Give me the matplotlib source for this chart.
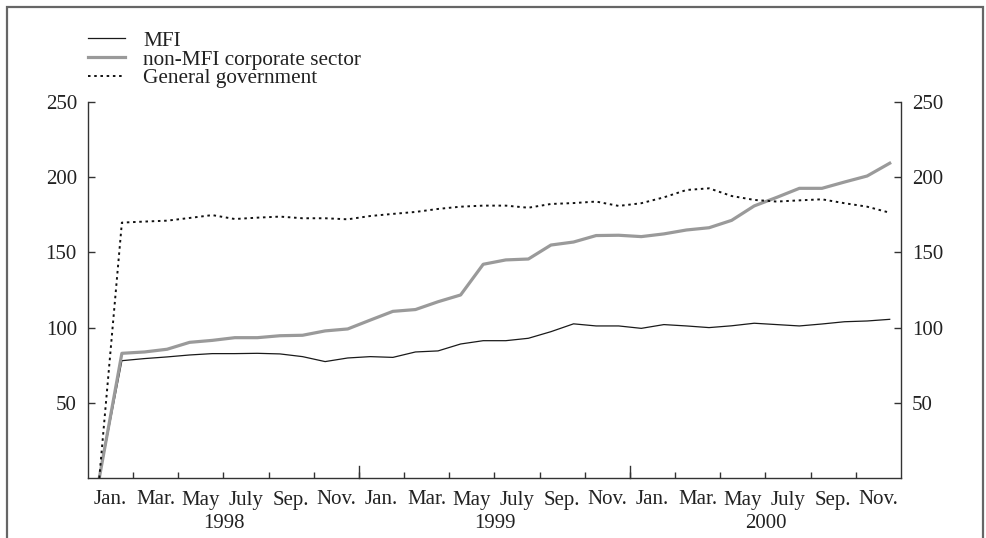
import matplotlib
matplotlib.use("Agg")
import matplotlib.pyplot as plt
from matplotlib.patches import Rectangle
import numpy as np

plt.rcParams['font.family'] = ['Liberation Serif', 'DejaVu Serif']

# ---- data (monthly, Jan 1998 - Dec 2000) ----
months = list(range(36))
mfi = [0, 78.0, 79.4, 80.5, 81.8, 82.7, 82.7, 82.9, 82.5, 80.7, 77.4, 79.8,
       80.7, 80.2, 83.8, 84.5, 89.1, 91.3, 91.3, 92.9, 97.3, 102.5, 101.1, 101.1,
       99.5, 102.0, 101.1, 100.0, 101.2, 102.9, 102.0, 101.1, 102.4, 103.9, 104.4, 105.5]
corp = [0, 82.9, 83.8, 85.6, 90.2, 91.5, 93.3, 93.3, 94.6, 94.9, 97.8, 99.1,
        105.0, 110.8, 112.0, 117.2, 121.7, 142.1, 145.0, 145.6, 154.9, 156.9, 161.2, 161.4,
        160.5, 162.3, 164.9, 166.4, 171.3, 180.9, 186.6, 192.6, 192.6, 196.8, 200.8, 209.3]
gov = [0, 169.8, 170.5, 171.1, 172.9, 174.8, 172.2, 173.1, 173.8, 172.7, 172.7, 172.0,
       174.2, 175.6, 176.9, 178.9, 180.4, 181.1, 181.1, 179.7, 182.2, 182.8, 183.8, 180.9,
       182.7, 186.6, 191.5, 192.6, 187.5, 184.9, 183.8, 184.6, 185.3, 182.7, 180.4, 176.4]
series_labels = ["MFI", "non-MFI corporate sector", "General government"]
month_labels = ["Jan.", "Mar.", "May", "July", "Sep.", "Nov."] * 3
years = ["1998", "1999", "2000"]
y_ticks = [50, 100, 150, 200, 250]

W, H = 986, 538
fig = plt.figure(figsize=(W / 100, H / 100), dpi=100)
ax = fig.add_axes([88 / W, 1 - 478 / H, 813 / W, 376 / H])

x = np.array(months) + 0.5
l1, = ax.plot(x, mfi, color="#1a1a1a", lw=0.9)
l2, = ax.plot(x, corp, color="#9a9a9a", lw=2.3)
l3, = ax.plot(x, gov, color="#111111", lw=1.4, linestyle=(0, (1.3, 1.9)))

ax.set_xlim(0, 36)
ax.set_ylim(0, 250)

for s in ["left", "right", "bottom"]:
    ax.spines[s].set_color("#333333")
    ax.spines[s].set_linewidth(1.0)
ax.spines["top"].set_visible(False)

text_color = "#222222"
fs = 15

# y ticks both sides, inward
ax.set_yticks(y_ticks)
ax.set_yticklabels([str(v) for v in y_ticks])
ax.tick_params(axis="y", which="both", direction="in", length=5, width=1,
               color="#333333", labelsize=fs, labelcolor=text_color,
               left=True, right=True, labelleft=True, labelright=True, pad=8)

# x: labels at odd positions (no tick), marks at even positions
ax.set_xticks(np.arange(1, 36, 2))
ax.set_xticklabels(month_labels)
ax.set_xticks(np.arange(2, 36, 2), minor=True)
ax.tick_params(axis="x", which="major", length=0, labelsize=fs,
               labelcolor=text_color, pad=9)
ax.tick_params(axis="x", which="minor", direction="in", length=4.5, width=1,
               color="#333333")
# longer ticks at year boundaries
for yb in (12, 24):
    ax.plot([yb, yb], [0, 8], color="#333333", lw=1, clip_on=False)

trans = ax.get_xaxis_transform()
for i, yr in enumerate(years):
    ax.text(6 + 12 * i, -0.095, yr, transform=trans, ha="center", va="top",
            fontsize=fs, color=text_color)

leg = fig.legend([l1, l2, l3], series_labels, loc="upper left",
                 bbox_to_anchor=(88 / W, 1 - 31 / H), frameon=False,
                 fontsize=15.3, handlelength=1.75, handletextpad=0.85,
                 labelspacing=-0.05, borderaxespad=0, borderpad=0)
for t in leg.get_texts():
    t.set_color(text_color)

# outer frame of the figure
fig.patches.append(Rectangle((7 / W, -0.05), (983 - 7) / W, 1 - 7 / H + 0.05,
                             transform=fig.transFigure, fill=False,
                             edgecolor="#666666", lw=1.6))

fig.savefig("out.png", dpi=100)
